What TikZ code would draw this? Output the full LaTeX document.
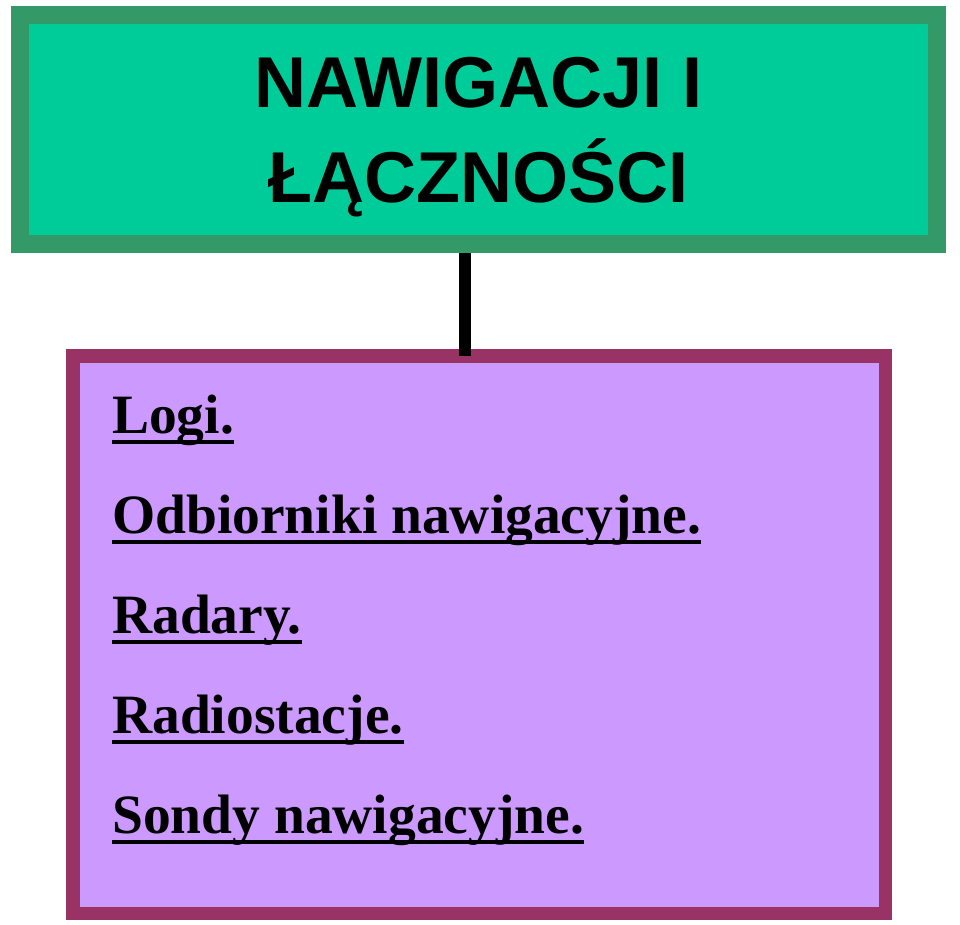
\documentclass[tikz,border=0pt]{standalone}
\usepackage{fontspec}
\setmainfont{Liberation Serif}
\newfontfamily\headfont{Liberation Sans}
\usetikzlibrary{positioning}

\definecolor{headfill}{HTML}{00CC99}
\definecolor{headborder}{HTML}{339966}
\definecolor{listfill}{HTML}{CC99FF}
\definecolor{listborder}{HTML}{993366}

\begin{document}
\begin{tikzpicture}[x=1pt,y=-1pt,
headnode/.style={rectangle, draw=headborder, fill=headfill, line width=18pt, minimum width=917pt, minimum height=229pt, align=center, text depth=0pt, font=\headfont\bfseries\fontsize{72}{95}\selectfont},
listnode/.style={rectangle, draw=listborder, fill=listfill, line width=13.5pt, minimum width=812.5pt, minimum height=557.5pt},
itemnode/.style={anchor=base west, inner sep=0pt, font=\bfseries\fontsize{55.5}{60}\selectfont},
underline/.style={line width=4pt}
]
    \useasboundingbox (0,0) rectangle (960,925);

    \node[headnode] (head) at (478.5,129.5) {NAWIGACJI I\\ŁĄCZNOŚCI};
    \node[listnode] (list) at (479,634.5) {};

    \node[itemnode] (logi) at (112,433) {Logi.};
    \node[itemnode] (odbiorniki) at (112,533) {Odbiorniki nawigacyjne.};
    \node[itemnode] (radary) at (112,633) {Radary.};
    \node[itemnode] (radiostacje) at (112,733) {Radiostacje.};
    \node[itemnode] (sondy) at (112,833) {Sondy nawigacyjne.};

    \foreach \item in {logi,odbiorniki,radary,radiostacje,sondy}
        \draw[underline] ([yshift=-9pt]\item.base west) -- ([yshift=-9pt]\item.base east);

    \draw[line width=12pt, shorten >=-7pt] ([xshift=-13.5pt]head.south) -- ([xshift=-14pt]list.north);
\end{tikzpicture}
\end{document}
